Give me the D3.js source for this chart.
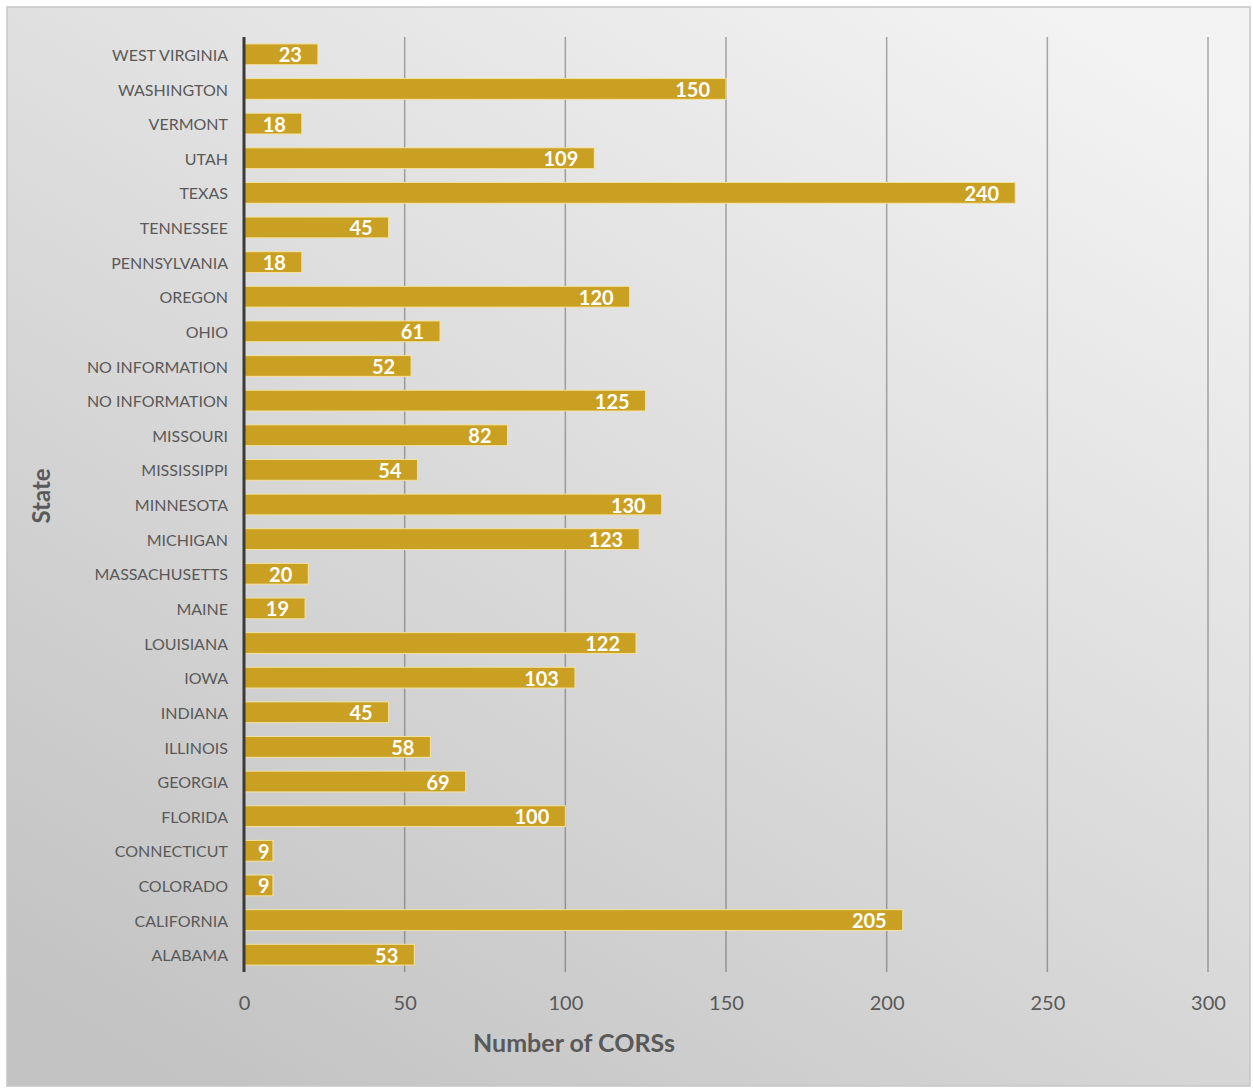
<!DOCTYPE html>
<html><head><meta charset="utf-8">
<script src="https://cdn.jsdelivr.net/npm/d3@7"></script>
<style>html,body{margin:0;padding:0;background:#fff;}svg{display:block;}</style>
</head><body>
<script>
const states = ["ALABAMA","CALIFORNIA","COLORADO","CONNECTICUT","FLORIDA","GEORGIA","ILLINOIS","INDIANA","IOWA","LOUISIANA","MAINE","MASSACHUSETTS","MICHIGAN","MINNESOTA","MISSISSIPPI","MISSOURI","NO INFORMATION","NO INFORMATION","OHIO","OREGON","PENNSYLVANIA","TENNESSEE","TEXAS","UTAH","VERMONT","WASHINGTON","WEST VIRGINIA"];
const corsCounts = [53,205,9,9,100,69,58,45,103,122,19,20,123,130,54,82,125,52,61,120,18,45,240,109,18,150,23];
const xTicks = [0,50,100,150,200,250,300];
const xTitle = "Number of CORSs";
const yTitle = "State";

(function(){
const W = 1253, H = 1089;
const font = "Lato, 'Open Sans', sans-serif";
const svg = d3.select("body").append("svg").attr("width", W).attr("height", H);
const defs = svg.append("defs");
const grad = defs.append("linearGradient").attr("id","bg")
  .attr("x1","0.85").attr("y1","0").attr("x2","0.15").attr("y2","1");
grad.append("stop").attr("offset","0").attr("stop-color","#f3f3f3");
grad.append("stop").attr("offset","1").attr("stop-color","#c3c3c3");

svg.append("rect").attr("x",7).attr("y",7).attr("width",1243).attr("height",1079)
  .attr("fill","url(#bg)").attr("stroke","#c6c6c6").attr("stroke-width",1.5);

const pL = 244, pR = 1208, pT = 37, pB = 972;
const x = d3.scaleLinear().domain([0,300]).range([pL,pR]);
const idx = states.map((d,i)=>i);
const y = d3.scaleBand().domain(idx.slice().reverse()).range([pT,pB]).paddingInner(0.4).paddingOuter(0.2);

svg.append("g").selectAll("line").data(xTicks.filter(t=>t>0)).join("line")
  .attr("x1",d=>x(d)).attr("x2",d=>x(d)).attr("y1",pT).attr("y2",pB)
  .attr("stroke","rgba(90,90,90,0.5)").attr("stroke-width",1.5);

svg.append("g").selectAll("rect").data(idx).join("rect")
  .attr("x",x(0)).attr("y",i=>y(i)).attr("width",i=>x(corsCounts[i])-x(0)).attr("height",y.bandwidth())
  .attr("fill","#c9a022").attr("stroke","#f3e3a0").attr("stroke-width",1);

const lbl = svg.append("g").selectAll("text").data(idx).join("text")
  .attr("font-family",font).attr("font-weight","bold").attr("font-size",20).attr("fill","#fff")
  .attr("y",i=>y(i)+y.bandwidth()/2+8)
  .text(i=>corsCounts[i]);
lbl.each(function(i){
  const w = this.getComputedTextLength();
  let end = x(corsCounts[i]) - 16;
  if (end - w < x(0) + 14) end = x(0) + 14 + w;
  d3.select(this).attr("x", end).attr("text-anchor","end");
});

const yAxis = d3.axisLeft(y).tickSize(0).tickPadding(16).tickFormat(i=>states[i]);
const gy = svg.append("g").attr("transform",`translate(${pL},1.5)`).call(yAxis);
gy.select(".domain").remove();
gy.selectAll("text").attr("font-family",font).attr("font-size",16).attr("fill","#595959");
svg.append("line").attr("x1",pL).attr("x2",pL).attr("y1",pT).attr("y2",pB)
  .attr("stroke","#3a3a3a").attr("stroke-width",3);

const xAxis = d3.axisBottom(x).tickValues(xTicks).tickSize(0).tickPadding(24);
const gx = svg.append("g").attr("transform",`translate(0,${pB})`).call(xAxis);
gx.select(".domain").remove();
gx.selectAll("text").attr("font-family",font).attr("font-size",20).attr("fill","#595959");

svg.append("text").attr("x",574).attr("y",1052).attr("text-anchor","middle")
  .attr("font-family",font).attr("font-weight","bold").attr("font-size",25).attr("fill","#595959").text(xTitle);
svg.append("text").attr("transform","translate(50,496) rotate(-90)").attr("text-anchor","middle")
  .attr("font-family",font).attr("font-weight","bold").attr("font-size",24).attr("fill","#595959").text(yTitle);
})();
</script>
</body></html>
